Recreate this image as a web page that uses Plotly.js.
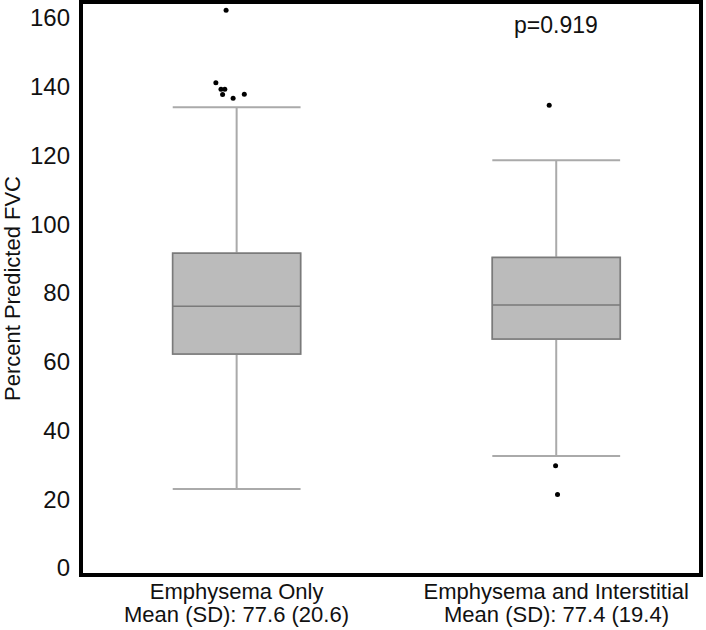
<!DOCTYPE html>
<html>
<head>
<meta charset="utf-8">
<script src="https://cdn.plot.ly/plotly-3.0.1.min.js"></script>
<style>html,body{margin:0;padding:0;background:#fff;}#chart{width:706px;height:630px;}</style>
</head>
<body>
<div id="chart"></div>
<script>
// Categories and summary statistics
const categories = ["Emphysema Only", "Emphysema and Interstitial"];
const meanLabels = ["Mean (SD): 77.6 (20.6)", "Mean (SD): 77.4 (19.4)"];
const positions = [0, 1];
const q1 = [62.2, 66.6];
const median = [76.1, 76.5];
const q3 = [91.5, 90.3];
const lowerWhisker = [23.0, 32.6];
const upperWhisker = [134.0, 118.6];

// Outliers: group index, horizontal jitter (category units), value
const outlierGroup = [0, 0, 0, 0, 0, 0, 0, 1, 1, 1];
const outlierJitter = [-0.033, -0.065, -0.049, -0.037, -0.044, -0.011, 0.024, -0.022, -0.002, 0.004];
const outlierValue = [162.2, 141.1, 139.2, 139.2, 137.7, 136.6, 137.8, 134.6, 29.7, 21.4];

const pValue = "p=0.919";
const yTicks = [0, 20, 40, 60, 80, 100, 120, 140, 160];

const FONT = "Liberation Sans, Arial, Helvetica, sans-serif";

// Whisker layer (light gray lines)
const whiskerTrace = {
  type: "box",
  x: positions,
  q1: q1, median: median, q3: q3,
  lowerfence: lowerWhisker, upperfence: upperWhisker,
  width: 0.4,
  whiskerwidth: 1,
  fillcolor: "#bbbbbb",
  line: {color: "#aaaaaa", width: 2},
  boxpoints: false,
  hoverinfo: "skip",
  showlegend: false
};
// Box layer (darker outline), fences collapsed onto the box
const boxTrace = {
  type: "box",
  x: positions,
  q1: q1, median: median, q3: q3,
  lowerfence: q1, upperfence: q3,
  width: 0.4,
  whiskerwidth: 0,
  fillcolor: "#bbbbbb",
  line: {color: "#7a7a7a", width: 1.5},
  boxpoints: false,
  showlegend: false
};
const outlierTrace = {
  type: "scatter",
  mode: "markers",
  x: outlierGroup.map((g, i) => positions[g] + outlierJitter[i]),
  y: outlierValue,
  marker: {color: "#000000", size: 5},
  showlegend: false
};

const annotations = meanLabels.map((t, i) => ({
  text: t, x: positions[i], xref: "x", y: -0.0925, yref: "paper",
  xanchor: "center", yanchor: "bottom", showarrow: false, borderpad: 0,
  font: {family: FONT, size: 22, color: "#111111"}
}));
annotations.push({
  text: pValue, x: positions[1], xref: "x", y: 158.0, yref: "y",
  xanchor: "center", yanchor: "middle", showarrow: false,
  font: {family: FONT, size: 23, color: "#111111"}
});

const layout = {
  width: 706, height: 630,
  margin: {l: 81, r: 5, t: 2, b: 55, pad: 0},
  paper_bgcolor: "#ffffff", plot_bgcolor: "#ffffff",
  boxmode: "overlay",
  showlegend: false,
  font: {family: FONT, size: 23, color: "#111111"},
  xaxis: {
    range: [-0.487, 1.453],
    tickvals: positions, ticktext: categories,
    showgrid: false, zeroline: false, showline: false,
    ticks: "", ticklabelstandoff: 1,
    tickfont: {family: FONT, size: 22, color: "#111111"}
  },
  yaxis: {
    range: [-2.04, 164.6],
    tickvals: yTicks,
    showgrid: false, zeroline: false, showline: false,
    ticks: "", ticklabelstandoff: 10,
    tickfont: {family: FONT, size: 24, color: "#111111"},
    title: {text: "Percent Predicted FVC", standoff: 6, font: {family: FONT, size: 22, color: "#111111"}}
  },
  shapes: [{
    type: "rect", xref: "paper", yref: "paper", x0: 0, x1: 1, y0: 0, y1: 1,
    line: {color: "#000000", width: 4}, fillcolor: "rgba(0,0,0,0)", layer: "above"
  }],
  annotations: annotations
};

Plotly.newPlot("chart", [whiskerTrace, boxTrace, outlierTrace], layout, {displayModeBar: false, staticPlot: true});
</script>
</body>
</html>
